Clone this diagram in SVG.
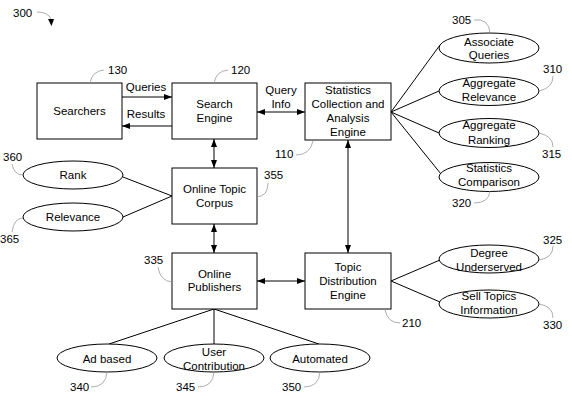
<svg xmlns="http://www.w3.org/2000/svg" width="572" height="400" viewBox="0 0 572 400">
<style>
text{font-family:"Liberation Sans",Arial,sans-serif;font-size:11.5px;fill:#000}
.c{text-anchor:middle}
.box{fill:#fff;stroke:#000;stroke-width:1}
.ell{fill:#fff;stroke:#000;stroke-width:1}
.ln{fill:none;stroke:#000;stroke-width:1}
.ld{fill:none;stroke:#999;stroke-width:0.8}
</style>
<defs>
<marker id="ah" viewBox="0 0 8 6" refX="8" refY="3" markerWidth="8" markerHeight="6" markerUnits="userSpaceOnUse" orient="auto-start-reverse">
<path d="M0,0 L8,3 L0,6 z" fill="#000"/>
</marker>
</defs>
<rect width="572" height="400" fill="#fff"/>

<g id="connectors">
<line class="ln" x1="122" y1="97" x2="172" y2="97" marker-end="url(#ah)"/>
<line class="ln" x1="172" y1="126" x2="122" y2="126" marker-end="url(#ah)"/>
<line class="ln" x1="257" y1="112" x2="305" y2="112" marker-start="url(#ah)" marker-end="url(#ah)"/>
<line class="ln" x1="214" y1="139" x2="214" y2="168" marker-start="url(#ah)" marker-end="url(#ah)"/>
<line class="ln" x1="214" y1="224" x2="214" y2="253" marker-start="url(#ah)" marker-end="url(#ah)"/>
<line class="ln" x1="348" y1="140" x2="348" y2="253" marker-start="url(#ah)" marker-end="url(#ah)"/>
<line class="ln" x1="257" y1="281" x2="305" y2="281" marker-start="url(#ah)" marker-end="url(#ah)"/>
<line class="ln" x1="391" y1="112" x2="440" y2="45"/>
<line class="ln" x1="391" y1="112" x2="439" y2="91"/>
<line class="ln" x1="391" y1="112" x2="439" y2="133"/>
<line class="ln" x1="391" y1="112" x2="441" y2="174"/>
<line class="ln" x1="391" y1="281" x2="440" y2="260"/>
<line class="ln" x1="391" y1="281" x2="440" y2="302"/>
<line class="ln" x1="123" y1="177" x2="172" y2="196"/>
<line class="ln" x1="123" y1="217" x2="172" y2="196"/>
<line class="ln" x1="214" y1="309" x2="109" y2="344"/>
<line class="ln" x1="214" y1="309" x2="214" y2="344"/>
<line class="ln" x1="214" y1="309" x2="319" y2="344"/>
<text class="c" x="146" y="91">Queries</text>
<text class="c" x="146" y="118">Results</text>
<text class="c" x="281" y="94">Query</text>
<text class="c" x="281" y="108">Info</text>
</g>

<g id="ref300">
<text x="13" y="17">300</text>
<path class="ld" d="M37,12 Q48,12 51,19"/>
<path d="M48,19 L54,19 L51.5,26 z" fill="#000"/>
</g>

<g id="searchers">
<rect class="box" x="37" y="83" width="85" height="56"/>
<text class="c" x="79.5" y="115">Searchers</text>
<path class="ld" d="M90,83 Q92,71 104,70"/>
<text x="108" y="74">130</text>
</g>

<g id="search-engine">
<rect class="box" x="172" y="83" width="85" height="56"/>
<text class="c" x="214.5" y="108">Search</text>
<text class="c" x="214.5" y="122">Engine</text>
<path class="ld" d="M214,83 Q216,71 228,70"/>
<text x="231" y="74">120</text>
</g>

<g id="stats-engine">
<rect class="box" x="305" y="83" width="86" height="57"/>
<text class="c" x="348" y="94">Statistics</text>
<text class="c" x="348" y="108">Collection and</text>
<text class="c" x="348" y="122">Analysis</text>
<text class="c" x="348" y="136">Engine</text>
<path class="ld" d="M296,155 Q310,155 313,141"/>
<text x="275" y="158">110</text>
</g>

<g id="associate-queries">
<ellipse class="ell" cx="489" cy="48" rx="50" ry="15"/>
<text class="c" x="489" y="46">Associate</text>
<text class="c" x="489" y="59">Queries</text>
<path class="ld" d="M474,20 Q489,18 490,33"/>
<text x="452" y="24">305</text>
</g>

<g id="aggregate-relevance">
<ellipse class="ell" cx="489" cy="91" rx="50" ry="14.5"/>
<text class="c" x="489" y="87">Aggregate</text>
<text class="c" x="489" y="101">Relevance</text>
<path class="ld" d="M539,91 Q553,88 553,76"/>
<text x="543" y="73">310</text>
</g>

<g id="aggregate-ranking">
<ellipse class="ell" cx="489" cy="133" rx="50" ry="14.5"/>
<text class="c" x="489" y="129">Aggregate</text>
<text class="c" x="489" y="144">Ranking</text>
<path class="ld" d="M539,133 Q553,136 553,147"/>
<text x="542" y="158">315</text>
</g>

<g id="statistics-comparison">
<ellipse class="ell" cx="489" cy="177" rx="50" ry="14.5"/>
<text class="c" x="489" y="172">Statistics</text>
<text class="c" x="489" y="186">Comparison</text>
<path class="ld" d="M474,203 Q489,203 490,191"/>
<text x="452" y="207">320</text>
</g>

<g id="rank">
<ellipse class="ell" cx="73" cy="175" rx="50" ry="14"/>
<text class="c" x="73" y="179">Rank</text>
<path class="ld" d="M12,164 Q14,175 23,175"/>
<text x="3" y="161">360</text>
</g>

<g id="relevance">
<ellipse class="ell" cx="73" cy="217" rx="50" ry="14"/>
<text class="c" x="73" y="221">Relevance</text>
<path class="ld" d="M12,232 Q14,218 23,218"/>
<text x="0" y="243">365</text>
</g>

<g id="online-topic-corpus">
<rect class="box" x="172" y="168" width="85" height="56"/>
<text class="c" x="214.5" y="193">Online Topic</text>
<text class="c" x="214.5" y="207">Corpus</text>
<path class="ld" d="M257,197 Q268,196 268,183"/>
<text x="264" y="179">355</text>
</g>

<g id="online-publishers">
<rect class="box" x="172" y="253" width="85" height="56"/>
<text class="c" x="214.5" y="278">Online</text>
<text class="c" x="214.5" y="291">Publishers</text>
<path class="ld" d="M158,267 Q160,281 172,282"/>
<text x="144" y="264">335</text>
</g>

<g id="topic-distribution">
<rect class="box" x="305" y="253" width="86" height="56"/>
<text class="c" x="348" y="271">Topic</text>
<text class="c" x="348" y="285">Distribution</text>
<text class="c" x="348" y="299">Engine</text>
<path class="ld" d="M385,310 Q388,323 400,323"/>
<text x="402" y="327">210</text>
</g>

<g id="degree-underserved">
<ellipse class="ell" cx="489" cy="259" rx="50" ry="14"/>
<text class="c" x="489" y="257">Degree</text>
<text class="c" x="489" y="271">Underserved</text>
<path class="ld" d="M539,260 Q553,258 553,246"/>
<text x="543" y="244">325</text>
</g>

<g id="sell-topics">
<ellipse class="ell" cx="489" cy="304" rx="50" ry="14"/>
<text class="c" x="489" y="300">Sell Topics</text>
<text class="c" x="489" y="314">Information</text>
<path class="ld" d="M539,304 Q553,306 553,318"/>
<text x="543" y="329">330</text>
</g>

<g id="ad-based">
<ellipse class="ell" cx="107" cy="358" rx="50" ry="14"/>
<text class="c" x="107" y="363">Ad based</text>
<path class="ld" d="M91,387 Q106,387 107,372"/>
<text x="70" y="391">340</text>
</g>

<g id="user-contribution">
<ellipse class="ell" cx="214" cy="358" rx="50" ry="14"/>
<text class="c" x="214" y="356">User</text>
<text class="c" x="214" y="370">Contribution</text>
<path class="ld" d="M198,387 Q213,387 214,372"/>
<text x="176" y="391">345</text>
</g>

<g id="automated">
<ellipse class="ell" cx="320" cy="358" rx="50" ry="14"/>
<text class="c" x="320" y="363">Automated</text>
<path class="ld" d="M304,387 Q319,387 320,372"/>
<text x="282" y="391">350</text>
</g>
</svg>
